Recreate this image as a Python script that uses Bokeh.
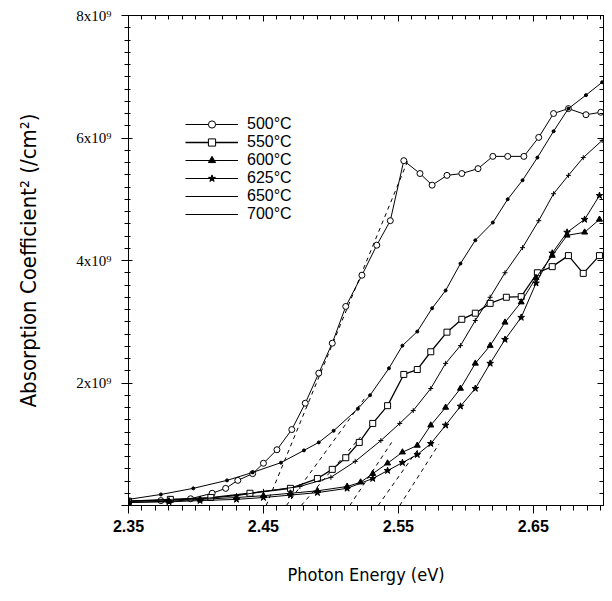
from bokeh.plotting import figure
from bokeh.models import (ColumnDataSource, FixedTicker, LinearAxis, Legend, LegendItem,
                          Range1d, NumeralTickFormatter, CustomJSTickFormatter)
from bokeh.embed import file_html
from bokeh.resources import INLINE

# ---------------- data (photon energy in eV, alpha^2 in units of 1e9 cm^-2) ----------------
labels = ["500°C", "550°C", "600°C", "625°C", "650°C", "700°C"]

e500 = [2.350, 2.374, 2.396, 2.412, 2.422, 2.431, 2.442, 2.450, 2.460, 2.471, 2.481, 2.491,
        2.501, 2.511, 2.523, 2.534, 2.544, 2.554, 2.566, 2.575, 2.586, 2.597, 2.609, 2.620,
        2.631, 2.643, 2.654, 2.665, 2.676, 2.689, 2.700]
a500 = [0.07, 0.08, 0.11, 0.20, 0.28, 0.41, 0.52, 0.69, 0.91, 1.24, 1.67, 2.16,
        2.65, 3.25, 3.76, 4.25, 4.65, 5.63, 5.42, 5.23, 5.39, 5.42, 5.50, 5.70,
        5.70, 5.70, 6.01, 6.40, 6.48, 6.38, 6.42]

e550 = [2.350, 2.381, 2.411, 2.440, 2.470, 2.490, 2.501, 2.511, 2.521, 2.531, 2.542, 2.554,
        2.564, 2.574, 2.586, 2.597, 2.607, 2.618, 2.630, 2.641, 2.653, 2.664, 2.676, 2.687, 2.699]
a550 = [0.07, 0.10, 0.13, 0.20, 0.28, 0.44, 0.59, 0.78, 1.03, 1.34, 1.63, 2.14,
        2.22, 2.51, 2.83, 3.04, 3.14, 3.30, 3.40, 3.41, 3.80, 3.90, 4.08, 3.79, 4.08]

e600 = [2.350, 2.380, 2.403, 2.430, 2.450, 2.470, 2.490, 2.512, 2.522, 2.531, 2.542, 2.553,
        2.564, 2.574, 2.585, 2.596, 2.607, 2.618, 2.629, 2.641, 2.652, 2.664, 2.675, 2.688, 2.699]
a600 = [0.05, 0.07, 0.10, 0.13, 0.16, 0.20, 0.24, 0.31, 0.38, 0.52, 0.69, 0.87,
        0.98, 1.31, 1.60, 1.91, 2.32, 2.61, 2.99, 3.32, 3.72, 4.08, 4.41, 4.46, 4.67]

e625 = [2.350, 2.380, 2.403, 2.430, 2.450, 2.470, 2.490, 2.512, 2.531, 2.542, 2.553, 2.564,
        2.574, 2.585, 2.596, 2.607, 2.618, 2.629, 2.641, 2.652, 2.664, 2.675, 2.688, 2.699]
a625 = [0.05, 0.06, 0.08, 0.10, 0.13, 0.17, 0.21, 0.28, 0.44, 0.57, 0.70, 0.83,
        1.01, 1.31, 1.62, 1.91, 2.32, 2.71, 3.07, 3.63, 4.12, 4.46, 4.67, 5.06]

e650 = [2.350, 2.380, 2.403, 2.430, 2.450, 2.477, 2.500, 2.518, 2.537, 2.551, 2.561, 2.574,
        2.585, 2.596, 2.607, 2.618, 2.629, 2.642, 2.654, 2.665, 2.676, 2.687, 2.701]
a650 = [0.07, 0.09, 0.11, 0.16, 0.23, 0.31, 0.46, 0.72, 1.06, 1.34, 1.55, 1.91,
        2.32, 2.61, 3.02, 3.40, 3.80, 4.21, 4.65, 5.09, 5.39, 5.68, 5.96]

e700 = [2.350, 2.374, 2.398, 2.423, 2.442, 2.463, 2.480, 2.491, 2.502, 2.520, 2.529, 2.543,
        2.553, 2.564, 2.575, 2.585, 2.596, 2.607, 2.620, 2.631, 2.642, 2.653, 2.665, 2.676,
        2.689, 2.701]
a700 = [0.10, 0.18, 0.28, 0.41, 0.54, 0.70, 0.90, 1.03, 1.22, 1.58, 1.80, 2.24,
        2.61, 2.84, 3.22, 3.51, 3.95, 4.33, 4.62, 5.00, 5.31, 5.68, 6.11, 6.48,
        6.70, 6.91]

# dashed linear extrapolations: x-intercept (band gap) and upper end point
ext_e0 = [2.452, 2.478, 2.535, 2.551, 2.514, 2.467]
ext_e1 = [2.557, 2.522, 2.565, 2.580, 2.545, 2.525]
ext_a1 = [5.63, 1.12, 0.93, 1.00, 1.03, 1.75]

x_major = [2.35, 2.45, 2.55, 2.65]
y_major = [0, 2, 4, 6, 8]

# ---------------- figure ----------------
FONT_T = "DejaVu Sans Condensed"

p = figure(width=612, height=601, x_range=Range1d(2.35, 2.702), y_range=Range1d(0, 8),
           output_backend="svg", toolbar_location=None,
           min_border_left=128, min_border_right=9, min_border_top=15, min_border_bottom=96)
p.xgrid.visible = False
p.ygrid.visible = False
p.outline_line_color = "black"
p.background_fill_color = "white"
p.border_fill_color = "white"

x_minor = [round(2.35 + 0.01 * i, 3) for i in range(36)]
y_minor = [round(0.2 * i, 2) for i in range(41)]

xa = p.xaxis[0]
xa.ticker = FixedTicker(ticks=x_major, minor_ticks=x_minor)
xa.formatter = NumeralTickFormatter(format="0.00")
xa.major_tick_in = 0
xa.major_tick_out = 8
xa.minor_tick_in = 0
xa.minor_tick_out = 5
xa.major_label_standoff = 6
xa.major_label_text_font = "Liberation Sans"
xa.major_label_text_font_style = "bold"
xa.major_label_text_font_size = "16px"
xa.axis_label = "Photon Energy (eV)"
xa.axis_label_text_font = FONT_T
xa.axis_label_text_font_style = "normal"
xa.axis_label_text_font_size = "18px"
xa.axis_label_standoff = 29

ya = p.yaxis[0]
ya.ticker = FixedTicker(ticks=y_major, minor_ticks=y_minor)
ya.formatter = CustomJSTickFormatter(code="return tick == 0 ? '' : tick.toFixed(0) + 'x10\u2079';")
ya.major_tick_in = 4
ya.major_tick_out = 7
ya.minor_tick_in = 2
ya.minor_tick_out = 4
ya.major_label_standoff = 10
ya.major_label_text_font = "Liberation Serif"
ya.major_label_text_font_size = "15px"
ya.axis_label = "Absorption Coefficient\u00b2 (/cm\u00b2)"
ya.axis_label_text_font = FONT_T
ya.axis_label_text_font_style = "normal"
ya.axis_label_text_font_size = "22px"
ya.axis_label_standoff = 32

for ax in (xa, ya):
    ax.axis_line_color = "black"
    ax.major_tick_line_color = "black"
    ax.minor_tick_line_color = "black"
    ax.major_label_text_color = "black"
    ax.axis_label_text_color = "black"

blank = CustomJSTickFormatter(code="return '';")
top = LinearAxis(ticker=FixedTicker(ticks=x_major, minor_ticks=x_minor), formatter=blank,
                 major_tick_in=6, major_tick_out=0, minor_tick_in=4, minor_tick_out=0,
                 major_label_standoff=0,
                 axis_line_color="black", major_tick_line_color="black", minor_tick_line_color="black")
right = LinearAxis(ticker=FixedTicker(ticks=y_major, minor_ticks=y_minor), formatter=blank,
                   major_tick_in=6, major_tick_out=0, minor_tick_in=4, minor_tick_out=0,
                   major_label_standoff=0,
                   axis_line_color="black", major_tick_line_color="black", minor_tick_line_color="black")
p.add_layout(top, "above")
p.add_layout(right, "right")

# dashed extrapolation lines
ext_src = ColumnDataSource(dict(x0=ext_e0, y0=[0] * len(ext_e0), x1=ext_e1, y1=ext_a1))
p.segment("x0", "y0", "x1", "y1", source=ext_src, line_color="black", line_width=1, line_dash="4 4")

series = [
    (e500, a500, "circle", 6, "white", 1.0, True),
    (e550, a550, "square", 6, "white", 1.3, True),
    (e600, a600, "triangle", 6, "black", 1.0, True),
    (e625, a625, "star", 7, "black", 1.0, True),
    (e650, a650, "cross", 5, "black", 1.0, False),
    (e700, a700, "circle", 3, "black", 1.0, False),
]

items = []
for lab, (ex, ay, mk, sz, fc, lw, in_leg) in zip(labels, series):
    src = ColumnDataSource(dict(x=ex, y=ay))
    ln = p.line("x", "y", source=src, line_color="black", line_width=lw)
    sc = p.scatter("x", "y", source=src, marker=mk, size=sz, fill_color=fc,
                   line_color="black", line_width=1)
    items.append(LegendItem(label=lab, renderers=[ln, sc] if in_leg else [ln]))

legend = Legend(items=items, location=(57, 282), glyph_width=53, glyph_height=18,
                label_height=18, spacing=0, padding=0, margin=0, label_standoff=9,
                label_text_font="Liberation Sans", label_text_font_size="16px",
                label_text_color="black",
                border_line_color=None, background_fill_alpha=0)
p.add_layout(legend)

open("out.html", "w").write(file_html(p, INLINE))
